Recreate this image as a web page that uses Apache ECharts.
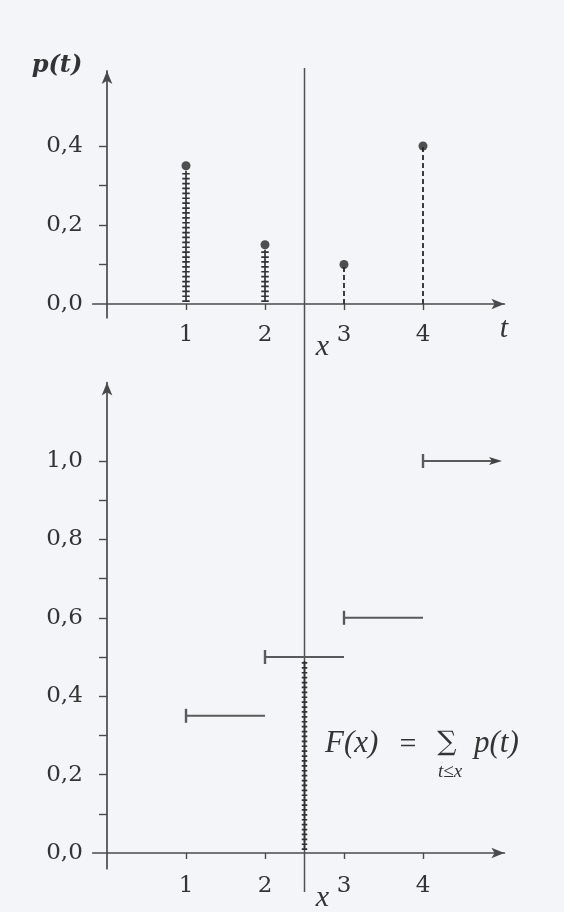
<!DOCTYPE html>
<html>
<head>
<meta charset="utf-8">
<script src="https://cdn.jsdelivr.net/npm/echarts@6/dist/echarts.min.js"></script>
<style>
html,body{margin:0;padding:0;background:#f4f5f8;}
#chart{width:564px;height:912px;}
</style>
</head>
<body>
<div id="chart"></div>
<script>
// ---- data ----
const tValues = [1, 2, 3, 4];
const pValues = [0.35, 0.15, 0.10, 0.40];
const xMark = 2.5;
const FAtMark = 0.50;
const stepFrom = [1, 2, 3, 4];
const stepTo = [2, 3, 4, 5];
const stepF = [0.35, 0.50, 0.60, 1.00];
const stepOpen = [0, 0, 0, 1];
const xTickValues = [1, 2, 3, 4];
const pTickValues = [0.1, 0.2, 0.3, 0.4];
const pLabelValues = [0.0, 0.2, 0.4];
const FTickValues = [0.1, 0.2, 0.3, 0.4, 0.5, 0.6, 0.7, 0.8, 0.9, 1.0];
const FLabelValues = [0.0, 0.2, 0.4, 0.6, 0.8, 1.0];

// ---- layout / style ----
const AX = '#4a4a4a';
const TXT = '#343434';
const FONT = 'DejaVu Serif';
const MATH = 'Liberation Serif';
const xMin = -0.18, xMax = 5.03, unitX = 79, originX = 107;
const top0 = { y0: 304, unit: 395, min: -0.035, max: 0.59 };
const bot1 = { y0: 853, unit: 392, min: -0.04, max: 1.2 };
const gridLeft = originX + xMin * unitX;
const gridWidth = (xMax - xMin) * unitX;

function fmt(v) { return v.toFixed(1).replace('.', ','); }

function xAxisCfg(gi) {
  return {
    gridIndex: gi, type: 'value', min: xMin, max: xMax,
    splitLine: { show: false },
    axisLine: { show: true, onZero: true, symbol: ['none', 'arrow'], symbolSize: [8, 13],
      lineStyle: { color: AX, width: 1.7 } },
    axisTick: { show: true, customValues: xTickValues, length: 6, lineStyle: { color: AX, width: 1.4 } },
    axisLabel: { show: true, customValues: xTickValues, margin: 6, color: TXT,
      fontFamily: FONT, fontSize: 23, formatter: v => String(v) }
  };
}
function yAxisCfg(gi, g, ticks, labels) {
  return {
    gridIndex: gi, type: 'value', min: g.min, max: g.max,
    splitLine: { show: false },
    axisLine: { show: true, onZero: true, symbol: ['none', 'arrow'], symbolSize: [8, 13],
      lineStyle: { color: AX, width: 1.7 } },
    axisTick: { show: true, customValues: ticks, length: 8, lineStyle: { color: AX, width: 1.4 } },
    axisLabel: { show: true, customValues: labels, margin: 10, color: TXT,
      fontFamily: FONT, fontSize: 23, formatter: v => fmt(v) }
  };
}

function hatch(x, yA, yB, color, wide) {
  return [
    { type: 'line', shape: { x1: x, y1: yA, x2: x, y2: yB },
      style: { stroke: color, lineWidth: 1.7 } },
    { type: 'line', shape: { x1: x, y1: yA, x2: x, y2: yB },
      style: { stroke: color, lineWidth: wide, lineDash: [1.7, 3.2], lineCap: 'butt' } }
  ];
}

const chart = echarts.init(document.getElementById('chart'), null, { renderer: 'canvas' });

const option = {
  backgroundColor: '#f4f5f8',
  animation: false,
  grid: [
    { left: gridLeft, width: gridWidth, top: top0.y0 - top0.max * top0.unit,
      height: (top0.max - top0.min) * top0.unit },
    { left: gridLeft, width: gridWidth, top: bot1.y0 - bot1.max * bot1.unit,
      height: (bot1.max - bot1.min) * bot1.unit }
  ],
  xAxis: [xAxisCfg(0), xAxisCfg(1)],
  yAxis: [
    yAxisCfg(0, top0, pTickValues, pLabelValues),
    yAxisCfg(1, bot1, FTickValues, FLabelValues)
  ],
  series: [
    {
      // probability stems: hatched for t <= x, dashed for t > x
      type: 'custom', xAxisIndex: 0, yAxisIndex: 0, clip: false, silent: true,
      data: tValues.map((t, i) => [t, pValues[i], t <= xMark ? 1 : 0]),
      renderItem: function (params, api) {
        const base = api.coord([api.value(0), 0]);
        const tip = api.coord([api.value(0), api.value(1)]);
        if (api.value(2) === 1) {
          return { type: 'group', children: hatch(base[0], base[1] - 2, tip[1] + 5, '#333', 7.5) };
        }
        return { type: 'line', shape: { x1: base[0], y1: base[1], x2: tip[0], y2: tip[1] },
          style: { stroke: '#333', lineWidth: 1.9, lineDash: [5, 3] } };
      }
    },
    {
      type: 'scatter', xAxisIndex: 0, yAxisIndex: 0, symbol: 'circle', symbolSize: 9,
      itemStyle: { color: '#262626' }, silent: true,
      data: tValues.map((t, i) => [t, pValues[i]])
    },
    {
      // distribution function steps
      type: 'custom', xAxisIndex: 1, yAxisIndex: 1, clip: false, silent: true,
      data: stepFrom.map((a, i) => [a, stepTo[i], stepF[i], stepOpen[i]]),
      renderItem: function (params, api) {
        const p1 = api.coord([api.value(0), api.value(2)]);
        const p2 = api.coord([api.value(1), api.value(2)]);
        const c = '#5a5a5a';
        const kids = [
          { type: 'line', shape: { x1: p1[0], y1: p1[1], x2: p2[0] - (api.value(3) ? 8 : 0), y2: p2[1] },
            style: { stroke: c, lineWidth: 1.9 } },
          { type: 'line', shape: { x1: p1[0], y1: p1[1] - 7, x2: p1[0], y2: p1[1] + 7 },
            style: { stroke: c, lineWidth: 2.4 } }
        ];
        if (api.value(3)) {
          kids.push({ type: 'polygon',
            shape: { points: [[p2[0], p2[1]], [p2[0] - 13, p2[1] - 4], [p2[0] - 10, p2[1]], [p2[0] - 13, p2[1] + 4]] },
            style: { fill: '#444' } });
        }
        return { type: 'group', children: kids };
      }
    },
    {
      // F(x) value at the marked x, hatched
      type: 'custom', xAxisIndex: 1, yAxisIndex: 1, clip: false, silent: true,
      data: [[xMark, FAtMark]],
      renderItem: function (params, api) {
        const base = api.coord([api.value(0), 0]);
        const tip = api.coord([api.value(0), api.value(1)]);
        return { type: 'group', children: hatch(base[0], base[1] - 3, tip[1] + 4, '#333', 5.5) };
      }
    }
  ]
};
chart.setOption(option);

// vertical marker line x, spanning both panels
const px = chart.convertToPixel({ xAxisIndex: 0, yAxisIndex: 0 }, [xMark, 0])[0];
const textStyle = (t, size, extra) => Object.assign({ text: t, fontFamily: MATH, fontSize: size,
  fill: TXT, align: 'center', verticalAlign: 'middle', fontStyle: 'italic' }, extra || {});
chart.setOption({
  graphic: [
    { type: 'line', silent: true, z: 1, shape: { x1: px, y1: 68, x2: px, y2: 892 },
      style: { stroke: '#505050', lineWidth: 1.5 } },
    { type: 'text', x: 57, y: 66, style: textStyle('p(t)', 24, { fontFamily: FONT, fontWeight: 'bold', fill: '#333' }) },
    { type: 'text', x: 504, y: 329, style: textStyle('t', 30) },
    { type: 'text', x: px + 18, y: 347, style: textStyle('x', 30) },
    { type: 'text', x: px + 18, y: 898, style: textStyle('x', 30) },
    { type: 'text', x: 325, y: 744, style: textStyle('F(x)', 31, { align: 'left' }) },
    { type: 'text', x: 408, y: 745, style: textStyle('=', 30, { fontStyle: 'normal' }) },
    { type: 'text', x: 447, y: 743, style: textStyle('\u2211', 27, { fontStyle: 'normal', fontFamily: FONT }) },
    { type: 'text', x: 474, y: 744, style: textStyle('p(t)', 31, { align: 'left' }) },
    { type: 'text', x: 450, y: 772, style: textStyle('t\u2264x', 19) }
  ]
});
</script>
</body>
</html>
